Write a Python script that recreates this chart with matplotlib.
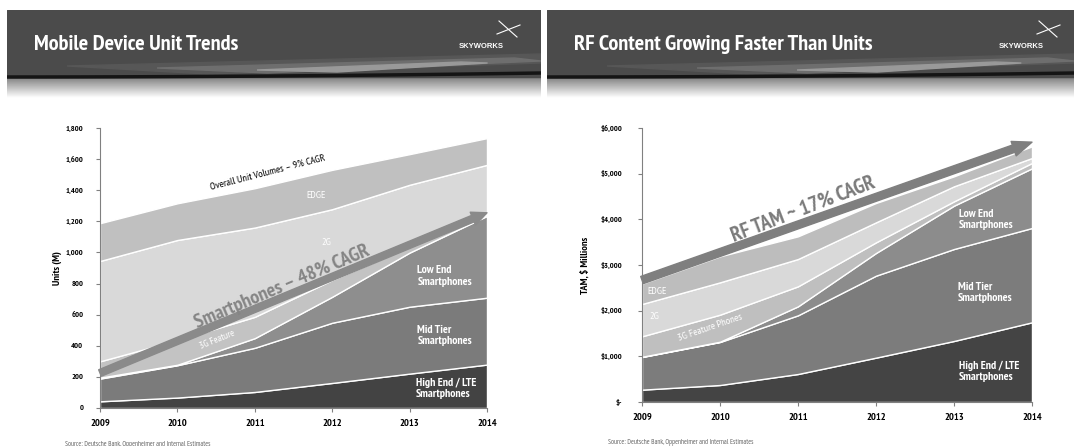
import numpy as np
import matplotlib
matplotlib.use('Agg')
import matplotlib.pyplot as plt
from matplotlib import font_manager
from matplotlib.patches import Rectangle, Polygon


# fonte estreita (tipo Arial Narrow) que tenha negrito
def peso(f):
    if isinstance(f.weight, int):
        return f.weight
    return font_manager.weight_dict.get(f.weight, 400)


com_negrito = set(f.name for f in font_manager.fontManager.ttflist if peso(f) >= 700)
prefs = ['Liberation Sans Narrow', 'Arial Narrow', 'PT Sans Narrow', 'Pragati Narrow',
         'Fira Sans Condensed', 'IBM Plex Sans Condensed', 'Asap Condensed',
         'Encode Sans Condensed', 'Barlow Semi Condensed', 'Archivo Narrow', 'Roboto Condensed']
estreita = next((n for n in prefs if n in com_negrito), 'DejaVu Sans')
plt.rcParams['font.family'] = [estreita, 'Liberation Sans', 'DejaVu Sans']

W, H = 1074, 446

# Dados
anos = [2009, 2010, 2011, 2012, 2013, 2014]
camadas = ['High End / LTE', 'Mid Tier', 'Low End', '3G Feature', '2G', 'EDGE']

# unidades (M) por camada
un_high = [43, 67, 103, 161, 221, 279]
un_mid = [146, 208, 284, 387, 430, 430]
un_low = [6, 3, 62, 167, 348, 526]
un_3g = [105, 158, 137, 108, 38, 10]
un_2g = [645, 644, 574, 455, 398, 318]
un_edge = [243, 236, 253, 253, 197, 172]

# TAM ($ milhoes) por camada
tam_high = [270, 372, 613, 971, 1336, 1745]
tam_mid = [715, 942, 1285, 1795, 2014, 2065]
tam_low = [5, 6, 197, 497, 949, 1307]
tam_3g = [448, 592, 438, 233, 95, 117]
tam_2g = [708, 708, 598, 438, 329, 109]
tam_edge = [445, 570, 497, 424, 219, 256]

un_ticks = [0, 200, 400, 600, 800, 1000, 1200, 1400, 1600, 1800]
un_ticklabels = ['0', '200', '400', '600', '800', '1,000', '1,200', '1,400', '1,600', '1,800']
tam_ticks = [0, 1000, 2000, 3000, 4000, 5000, 6000]
tam_ticklabels = ['$-', '$1,000', '$2,000', '$3,000', '$4,000', '$5,000', '$6,000']

# setas de CAGR (inicio, fim)
seta_un = [(2009, 225), (2014, 1255)]
seta_tam = [(2009, 2670), (2014, 5690)]

cores_un = ['#434343', '#7b7b7b', '#8e8e8e', '#c3c3c3', '#d9d9d9', '#c0c0c0']
cores_tam = ['#444444', '#7c7c7c', '#8c8c8c', '#bfbfbf', '#d9d9d9', '#bdbdbd']

fonte = 'Source: Deutsche Bank, Oppenheimer and Internal Estimates'

fig = plt.figure(figsize=(W/100, H/100), dpi=100)


def cabecalho(x0, x1, titulo):
    w = x1 - x0
    ax = fig.add_axes([x0/W, 1-100/H, w/W, 90/H])
    grad = np.linspace(0.5, 1, 30).reshape(-1, 1)
    ax.imshow(grad, extent=(0, w, 98, 77), cmap='gray', vmin=0, vmax=1, aspect='auto')
    ax.add_patch(Rectangle((0, 10), w, 67, color='#4b4b4b'))
    # faixas claras
    ax.add_patch(Polygon([(60, 66), (w, 54), (w, 63), (200, 74)], color='#575757'))
    ax.add_patch(Polygon([(150, 68), (w*0.95, 58), (w, 61), (260, 73)], color='#6e6e6e'))
    ax.add_patch(Polygon([(250, 70), (w*0.85, 62), (w*0.9, 63), (330, 72)], color='#999999'))
    xs = np.linspace(0, w, 50)
    ys = 77 - 4*(xs/w)**2
    ax.plot(xs, ys, color='#151515', lw=2.5, solid_capstyle='butt')
    ax.text(27, 44, titulo, color='white', fontsize=16, fontweight='bold', va='center')
    ax.text(474, 46, 'SKYWORKS', color='white', fontsize=5.5, fontweight='bold',
            ha='center', va='center', family=['Liberation Sans', 'DejaVu Sans'])
    ax.plot([492, 510], [21, 37], color='white', lw=0.8)
    ax.plot([490, 513], [34, 25], color='white', lw=0.8)
    ax.set_xlim(0, w)
    ax.set_ylim(100, 10)
    ax.axis('off')


cabecalho(7, 541, 'Mobile Device Unit Trends')
cabecalho(547, 1074, 'RF Content Growing Faster Than Units')


def grafico(pos, valores, cores, ticks, ticklabels, ymax, ylabel, ylabelx, pad):
    ax = fig.add_axes(pos)
    ax.stackplot(anos, valores, colors=cores, edgecolor='white', linewidth=1)
    ax.set_xlim(2009, 2014)
    ax.set_ylim(0, ymax)
    ax.set_xticks(anos)
    ax.set_xticklabels([str(a) for a in anos], fontsize=7.5, fontweight='bold')
    ax.set_yticks(ticks)
    ax.set_yticklabels(ticklabels, fontsize=6, fontweight='bold')
    ax.tick_params(axis='x', length=3, color='#808080', pad=5)
    ax.tick_params(axis='y', length=3, color='#808080', pad=pad)
    for s in ['top', 'right']:
        ax.spines[s].set_visible(False)
    for s in ['left', 'bottom']:
        ax.spines[s].set_color('#808080')
        ax.spines[s].set_linewidth(0.8)
    fig.text(ylabelx/W, pos[1] + pos[3]/2, ylabel, rotation=90, fontsize=7.5,
             fontweight='bold', ha='center', va='center')
    return ax


# Grafico de unidades
ax1 = grafico([100/W, 38/H, 387/W, 280/H], [un_high, un_mid, un_low, un_3g, un_2g, un_edge],
              cores_un, un_ticks, un_ticklabels, 1800, 'Units (M)', 57, 9)
ax1.annotate('', xy=seta_un[1], xytext=seta_un[0],
             arrowprops=dict(arrowstyle='simple,head_length=1.1,head_width=1.0,tail_width=0.5',
                             color='#8a8a8a', shrinkA=0, shrinkB=0, mutation_scale=10),
             annotation_clip=False)
ax1.text(2011.17, 1512, 'Overall Unit Volumes – 9% CAGR', rotation=14.5, fontsize=7.5,
         ha='center', va='center', color='black')
ax1.text(2011.79, 1364, 'EDGE', color='white', fontsize=7.5, ha='center', va='center')
ax1.text(2011.93, 1061, '2G', color='white', fontsize=7.5, ha='center', va='center')
ax1.text(2011.36, 777, 'Smartphones – 48% CAGR', rotation=23, fontsize=14.5, fontweight='bold',
         color='#858585', ha='center', va='center')
ax1.text(2010.52, 436, '3G Feature', rotation=22, fontsize=7, color='white',
         ha='center', va='center')
ax1.text(2013.10, 849, 'Low End\nSmartphones', color='white', fontsize=8.5, fontweight='bold',
         ha='left', va='center', linespacing=1.15)
ax1.text(2013.10, 468, 'Mid Tier\nSmartphones', color='white', fontsize=8.5, fontweight='bold',
         ha='left', va='center', linespacing=1.15)
ax1.text(2013.08, 127, 'High End / LTE\nSmartphones', color='white', fontsize=8.5,
         fontweight='bold', ha='left', va='center', linespacing=1.15)

# Grafico de TAM
ax2 = grafico([642/W, 44/H, 390/W, 274/H], [tam_high, tam_mid, tam_low, tam_3g, tam_2g, tam_edge],
              cores_tam, tam_ticks, tam_ticklabels, 6000, 'TAM, $ Millions', 585, 11)
ax2.annotate('', xy=seta_tam[1], xytext=seta_tam[0],
             arrowprops=dict(arrowstyle='simple,head_length=1.4,head_width=1.1,tail_width=0.55',
                             color='#7f7f7f', shrinkA=0, shrinkB=0, mutation_scale=10),
             annotation_clip=False)
ax2.text(2011.06, 4210, 'RF TAM ~ 17% CAGR', rotation=21, fontsize=15, fontweight='bold',
         color='#7a7a7a', ha='center', va='center')
ax2.text(2009.07, 2415, 'EDGE', color='white', fontsize=7.5, ha='left', va='center')
ax2.text(2009.10, 1868, '2G', color='white', fontsize=7.5, ha='left', va='center')
ax2.text(2009.87, 1627, '3G Feature Phones', rotation=19, fontsize=7.5, color='white',
         ha='center', va='center')
ax2.text(2013.06, 3992, 'Low End\nSmartphones', color='white', fontsize=8.5, fontweight='bold',
         ha='left', va='center', linespacing=1.15)
ax2.text(2013.05, 2393, 'Mid Tier\nSmartphones', color='white', fontsize=8.5, fontweight='bold',
         ha='left', va='center', linespacing=1.15)
ax2.text(2013.06, 663, 'High End / LTE\nSmartphones', color='white', fontsize=8.5,
         fontweight='bold', ha='left', va='center', linespacing=1.15)

fig.text(65/W, 1-444/H, fonte, fontsize=5, style='italic', color='#666666', va='center')
fig.text(608/W, 1-442/H, fonte, fontsize=5, style='italic', color='#666666', va='center')

fig.savefig('out.png', dpi=100)
